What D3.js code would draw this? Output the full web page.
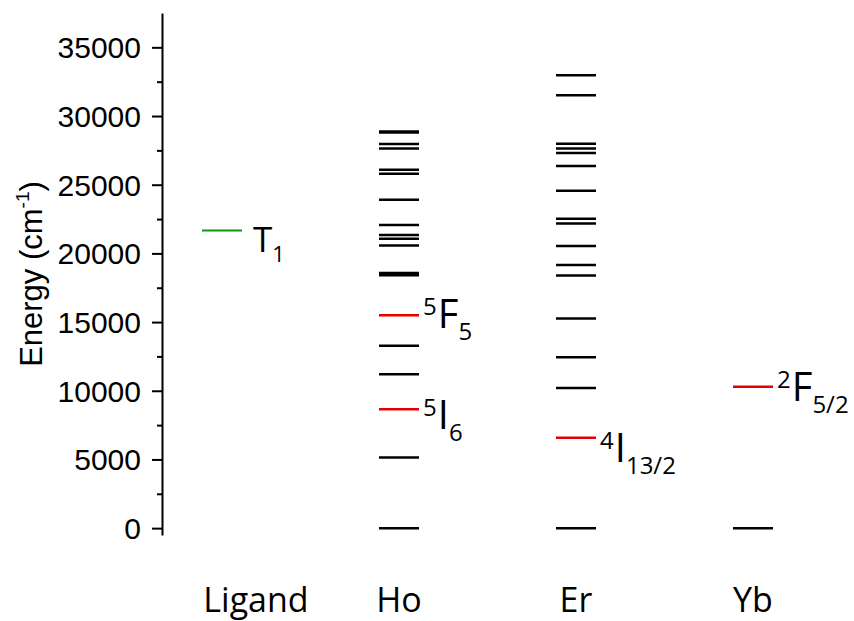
<!DOCTYPE html>
<html>
<head>
<meta charset="utf-8">
<script src="https://cdn.jsdelivr.net/npm/d3@7"></script>
<style>
  body { margin: 0; background: #fff; }
  svg { display: block; }
</style>
</head>
<body>
<div id="chart"></div>
<script>
// Energy levels in cm^-1
var categories = ['Ligand', 'Ho', 'Er', 'Yb'];
var ligandLevels = [21670];
var hoLevels = [0, 5150, 8650, 11200, 13270, 15500, 18400, 18580, 20580, 21070, 21340,
	22060, 23910, 25800, 26090, 27630, 27970, 28800, 28880];
var erLevels = [0, 6580, 10200, 12440, 15260, 18390, 19150, 20530, 22180, 22520,
	24560, 26360, 27310, 27630, 27990, 31510, 32970];
var ybLevels = [0, 10300];

// Emitting / triplet levels with their term symbols
var termIons = ['Ligand', 'Ho', 'Ho', 'Er', 'Yb'];
var termEnergies = [21670, 15500, 8650, 6580, 10300];
var termSup = ['', '5', '5', '4', '2'];
var termMain = ['T', 'F', 'I', 'I', 'F'];
var termSub = ['1', '5', '6', '13/2', '5/2'];

var majorTicks = [0, 5000, 10000, 15000, 20000, 25000, 30000, 35000];
var minorTicks = [2500, 7500, 12500, 17500, 22500, 27500, 32500];

var levelsByIon = { Ligand: ligandLevels, Ho: hoLevels, Er: erLevels, Yb: ybLevels };

/***********************************************************
  Setup
***********************************************************/
var width = 854, height = 621;
var svg = d3.select('#chart').append('svg')
	.attr('width', width)
	.attr('height', height);

var x = d3.scalePoint().domain(categories).range([222, 753]);
var y = d3.scaleLinear().domain([-500, 37500]).range([535, 13]);
var halfLen = 20;

/***********************************************************
  Y axis
***********************************************************/
var axisX = 162;
var gMinor = svg.append('g')
	.attr('transform', 'translate(' + axisX + ',0)')
	.call(d3.axisLeft(y).tickValues(minorTicks).tickSize(5).tickFormat(''));
gMinor.select('.domain').remove();

var gAxis = svg.append('g')
	.attr('transform', 'translate(' + axisX + ',0)')
	.call(d3.axisLeft(y).tickValues(majorTicks).tickSize(10).tickSizeOuter(0).tickPadding(11).tickFormat(d3.format('d')));

svg.selectAll('.tick line').attr('stroke', '#000').attr('stroke-width', 2);
gAxis.select('.domain').attr('stroke', '#000').attr('stroke-width', 2);
gAxis.selectAll('.tick text')
	.attr('dy', '0.35em')
	.style('font-family', '"Liberation Sans", Arial, sans-serif')
	.style('font-size', '30px')
	.attr('fill', '#000');

var title = svg.append('text')
	.attr('transform', 'translate(42,' + ((y.range()[0] + y.range()[1]) / 2) + ') rotate(-90)')
	.attr('text-anchor', 'middle')
	.style('font-family', '"Liberation Sans", Arial, sans-serif')
	.style('font-size', '31px');
title.append('tspan').text('Energy (cm');
title.append('tspan').attr('dy', -13).style('font-size', '19px').text('-1');
title.append('tspan').attr('dy', 13).text(')');

/***********************************************************
  Energy levels
***********************************************************/
var termKey = {};
termIons.forEach(function(ion, i) { termKey[ion + ':' + termEnergies[i]] = i; });

categories.forEach(function(ion) {
	svg.append('g').selectAll('line')
		.data(levelsByIon[ion])
		.enter().append('line')
		.attr('x1', x(ion) - halfLen)
		.attr('x2', x(ion) + halfLen)
		.attr('y1', function(d) { return y(d); })
		.attr('y2', function(d) { return y(d); })
		.attr('stroke', function(d) {
			if (ion === 'Ligand') return '#0a9a0a';
			return (termKey[ion + ':' + d] !== undefined) ? '#e80000' : '#000';
		})
		.attr('stroke-width', ion === 'Ligand' ? 2 : 2.5);
});

/***********************************************************
  Term symbol labels (hand placed in the original, nudged here)
***********************************************************/
var nudgeDy = [22, 13, 20, 24, 14];
termIons.forEach(function(ion, i) {
	var isLigand = ion === 'Ligand';
	var t = svg.append('text')
		.attr('x', x(ion) + halfLen + (isLigand ? 11 : 4))
		.attr('y', y(termEnergies[i]) + nudgeDy[i])
		.style('font-family', '"Open Sans", sans-serif')
		.style('font-size', isLigand ? '35px' : '40px')
		.attr('fill', '#000');
	if (termSup[i]) {
		t.append('tspan').attr('dy', -13).style('font-size', '24px').text(termSup[i]);
		t.append('tspan').attr('dy', 13).attr('dx', 1).text(termMain[i]);
	} else {
		t.append('tspan').text(termMain[i]);
	}
	t.append('tspan')
		.attr('dy', isLigand ? 10 : 12)
		.style('font-size', isLigand ? '22px' : '24px')
		.text(termSub[i]);
});

/***********************************************************
  Category labels
***********************************************************/
svg.append('g').selectAll('text')
	.data(categories)
	.enter().append('text')
	.attr('x', function(d) { return x(d) + (d === 'Ligand' ? 34 : 0); })
	.attr('y', 612)
	.attr('text-anchor', 'middle')
	.style('font-family', '"Open Sans", sans-serif')
	.style('font-size', '34px')
	.attr('fill', '#000')
	.text(function(d) { return d; });
</script>
</body>
</html>
